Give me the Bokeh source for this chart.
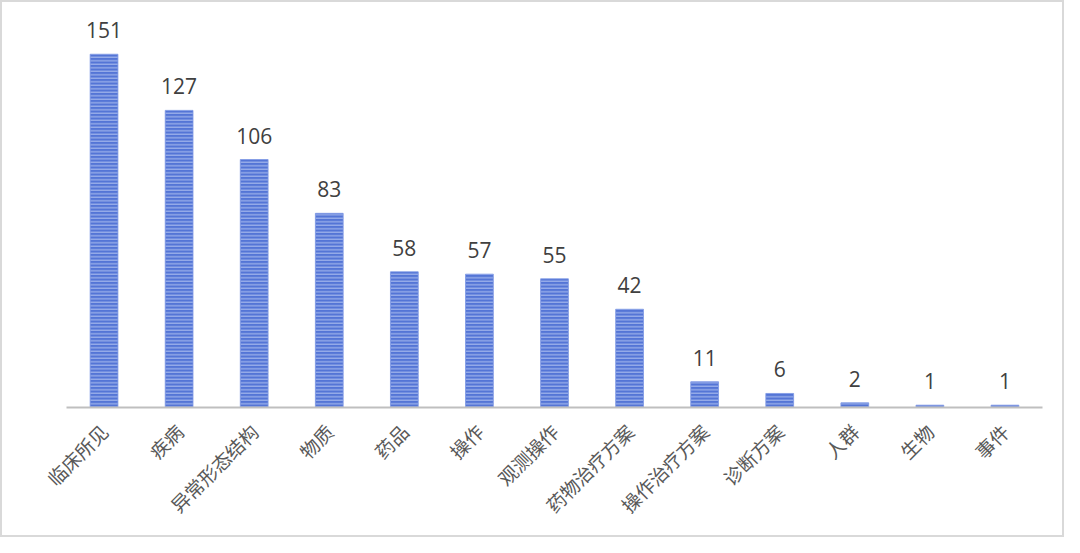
import math
from bokeh.plotting import figure
from bokeh.models import ColumnDataSource, LabelSet, Range1d
from bokeh.core.properties import value
from bokeh.embed import file_html
from bokeh.resources import INLINE

categories = ["临床所见", "疾病", "异常形态结构", "物质", "药品", "操作", "观测操作",
              "药物治疗方案", "操作治疗方案", "诊断方案", "人群", "生物", "事件"]
counts = [151, 127, 106, 83, 58, 57, 55, 42, 11, 6, 2, 1, 1]

source = ColumnDataSource(dict(cat=categories, val=counts, lab=[str(v) for v in counts]))

p = figure(x_range=categories, y_range=Range1d(0, 171.4), width=1064, height=537,
           output_backend="svg", toolbar_location=None,
           min_border_left=64, min_border_right=24, min_border_top=4, min_border_bottom=132)

p.vbar(x="cat", top="val", width=0.37, source=source,
       fill_color="#5475d6", line_color="#7d98e4", line_width=0.8,
       hatch_pattern="horizontal_line", hatch_color="#b0c1f0", hatch_scale=3.5, hatch_weight=1)

labels = LabelSet(x="cat", y="val", text="lab", source=source, y_offset=16,
                  text_align="center", text_baseline="bottom",
                  text_font=value("Open Sans"), text_font_size="21px", text_color="#404040")
p.add_layout(labels)

p.yaxis.visible = False
p.ygrid.visible = False
p.xgrid.visible = False

p.xaxis.axis_line_color = "#bfbfbf"
p.xaxis.axis_line_width = 2
p.xaxis.major_tick_line_color = None
p.xaxis.minor_tick_line_color = None
p.xaxis.major_label_orientation = math.pi / 4
p.xaxis.major_label_text_font = "Noto Sans CJK SC"
p.xaxis.major_label_text_font_size = "19px"
p.xaxis.major_label_text_color = "#595959"
p.xaxis.major_label_standoff = 14

p.outline_line_color = None
p.border_fill_color = "white"
p.background_fill_color = "white"
p.styles = {"border": "2px solid #d9d9d9", "box-sizing": "border-box"}

open("out.html", "w").write(file_html(p, INLINE))
